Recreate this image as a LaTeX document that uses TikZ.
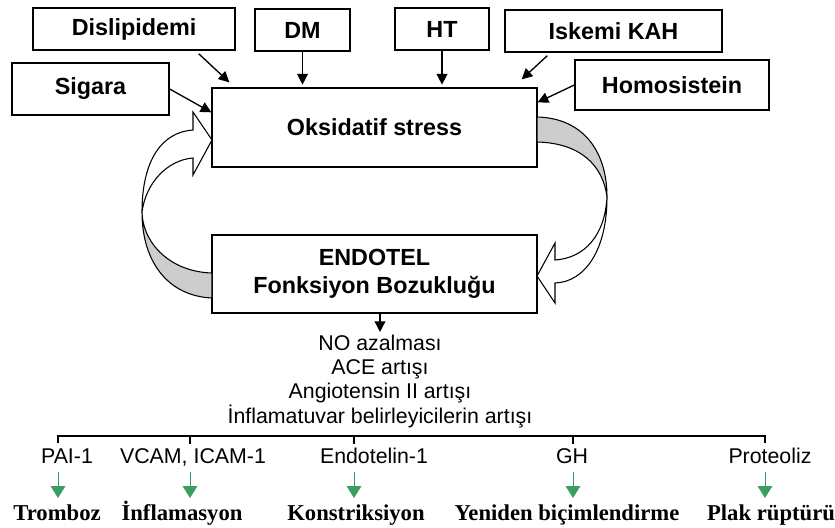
\documentclass[tikz,border=0pt]{standalone}
\usepackage{fontspec}
\setmainfont{Liberation Sans}
\newfontfamily\tnr{Liberation Serif}
\usetikzlibrary{arrows.meta}
\definecolor{ribbon}{RGB}{205,205,205}
\definecolor{arrgreen}{RGB}{56,158,98}
\tikzset{
  riskbox/.style={draw, line width=1pt, inner sep=0pt,
    font=\fontsize{17.5}{20}\selectfont\bfseries},
  arr/.style={-{Triangle[length=8pt,width=8pt]}, line width=1pt},
  garr/.style={-{Triangle[length=9pt,width=11pt]}, line width=0.7pt, color=arrgreen},
  lbl/.style={anchor=base, inner sep=0pt, font=\fontsize{16}{18}\selectfont},
  result/.style={anchor=base, inner sep=0pt, font=\fontsize{17}{20}\selectfont\tnr\bfseries},
  band/.style={draw, line width=0.8pt}
}
\begin{document}
\begin{tikzpicture}[x=0.75pt, y=-0.75pt]
                \useasboundingbox (0,0) rectangle (835,528);
                % risk factors
                \node[riskbox, minimum width=151.5pt, minimum height=31.5pt] (dis) at (134,29) {Dislipidemi};
                \node[riskbox, minimum width=71.25pt, minimum height=31.5pt] (dm) at (302.5,30) {DM};
                \node[riskbox, minimum width=70.5pt, minimum height=31.5pt] (ht) at (442,29) {HT};
                \node[riskbox, minimum width=162.75pt, minimum height=31.5pt] (isk) at (613.5,31) {Iskemi KAH};
                \node[riskbox, minimum width=145.5pt, minimum height=37.5pt] (hom) at (672,85) {Homosistein};
                \node[riskbox, minimum width=117.75pt, minimum height=39pt] (sig) at (90.5,89) {Sigara};
                % main boxes
                \node[riskbox, minimum width=243.75pt, minimum height=59.25pt] (oks) at (374.5,127.5) {Oksidatif stress};
                \node[riskbox, minimum width=243.75pt, minimum height=58.5pt, align=center,
                      font=\fontsize{17.5}{21}\selectfont\bfseries] (end) at (374.5,274) {ENDOTEL\\Fonksiyon Bozukluğu};

                \draw[arr] ([shift={(-37,3)}]dis.south east) -- ([shift={(18,-5)}]oks.north west);
                \draw[arr] (dm.south) -- ([yshift=2pt]dm.south |- oks.north);
                \draw[arr] (ht.south) -- ([yshift=2pt]ht.south |- oks.north);
                \draw[arr] ([shift={(43,3)}]isk.south west) -- ([shift={(-16,-8)}]oks.north east);
                \draw[arr] (hom.west) -- ([shift={(0,15)}]oks.north east);
                \draw[arr] (sig.east) -- ([shift={(0,25)}]oks.north west);

                % twisted ribbon arrows
                \filldraw[band, fill=ribbon] (212,298) .. controls (168,296) and (142,262) .. (142,212)
                    .. controls (143,245) and (172,272) .. (212,273) -- cycle;
                \filldraw[band, fill=white] (142,212) .. controls (142,160) and (162,132) .. (193,130)
                    -- (193,112) -- (212,140) -- (193,175) -- (193,158)
                    .. controls (168,160) and (146,182) .. (142,212) -- cycle;
                \filldraw[band, fill=ribbon] (537,117) .. controls (582,118) and (607,150) .. (607,197)
                    .. controls (603,165) and (580,143) .. (537,142) -- cycle;
                \filldraw[band, fill=white] (607,197) .. controls (607,250) and (585,282) .. (555,283)
                    -- (555,303) -- (537,276) -- (555,243) -- (555,260)
                    .. controls (585,258) and (605,235) .. (607,197) -- cycle;

                % effects
                \node[anchor=north, align=center, inner sep=2pt,
                      font=\fontsize{16}{18.2}\selectfont] (eff) at (380,332)
                    {NO azalması\\ACE artışı\\Angiotensin II artışı\\İnflamatuvar belirleyicilerin artışı};
                \draw[arr] (end.south -| eff.north) -- (eff.north);

                \coordinate (b1) at (58,436);
                \coordinate (b2) at (190,436);
                \coordinate (b3) at (354,436);
                \coordinate (b4) at (573,436);
                \coordinate (b5) at (765,436);
                \draw[line width=0.8pt] ([yshift=-5pt]b1) -- (b1) -- (b5) -- ([yshift=-5pt]b5);
                \foreach \b in {b2,b3,b4}
                    \draw[line width=0.8pt] (\b) -- ++(0,8);

                \node[lbl] (pai) at (67,463) {PAI-1};
                \node[lbl] (vcam) at (193,463) {VCAM, ICAM-1};
                \node[lbl] (et) at (374,463) {Endotelin-1};
                \node[lbl] (gh) at (572,463) {GH};
                \node[lbl] (prot) at (770,463) {Proteoliz};

                \foreach \x [count=\i] in {58,190,354,573,765} {
                    \coordinate (g\i) at (\x,472);
                    \draw[garr] (g\i) -- ++(0,26);
                }

                \node[result] (trom) at (57,520) {Tromboz};
                \node[result] (infl) at (182,520) {İnflamasyon};
                \node[result] (kons) at (356,520) {Konstriksiyon};
                \node[result] (yen) at (567,520) {Yeniden biçimlendirme};
                \node[result] (plak) at (771,520) {Plak rüptürü};
            \end{tikzpicture}
\end{document}
